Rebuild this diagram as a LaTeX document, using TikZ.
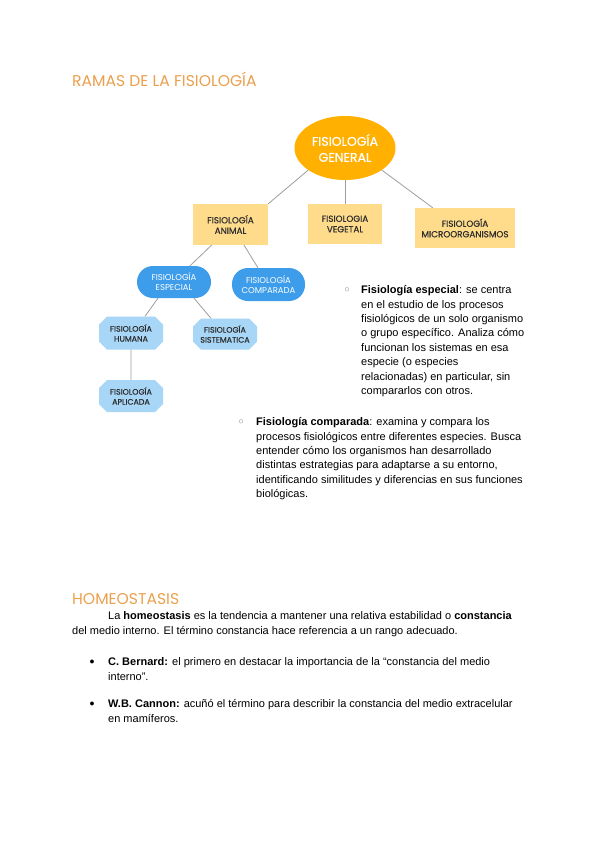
\documentclass[tikz,border=0pt]{standalone}
\usepackage{fontspec}
\setmainfont{Liberation Sans}
\newfontfamily\headfont{Poppins}
\newfontfamily\boxfont{Poppins}[FakeBold=0.6]
\usetikzlibrary{shapes.geometric,shapes.misc}
\definecolor{headorange}{HTML}{EBA04E}
\definecolor{genorange}{HTML}{FFB000}
\definecolor{boxyellow}{HTML}{FFDB8C}
\definecolor{pillblue}{HTML}{3D9DEB}
\definecolor{paleblue}{HTML}{A7D6F7}
\definecolor{linegray}{HTML}{9E9E9E}
\definecolor{boxtext}{HTML}{2E2E2E}
\begin{document}
\begin{tikzpicture}[x=1pt, y=-1pt,
    heading/.style={anchor=base west, inner sep=0pt, text=headorange, font=\headfont\fontsize{15.6}{18}\selectfont},
    body/.style={anchor=north west, inner sep=0pt, align=left, font=\fontsize{11}{14.4}\selectfont},
    bulletmark/.style={inner sep=0pt, font=\fontsize{9}{10}\selectfont},
    general/.style={ellipse, fill=genorange, minimum width=101pt, minimum height=64pt, inner sep=0pt, align=center, text=white, font=\boxfont\fontsize{12.5}{16}\selectfont},
    branch/.style={rectangle, fill=boxyellow, minimum height=40pt, inner sep=0pt, align=center, text=boxtext, font=\boxfont\fontsize{8.8}{10.5}\selectfont},
    pill/.style={rectangle, rounded corners=16pt, fill=pillblue, minimum width=74pt, minimum height=32pt, inner sep=0pt, align=center, text=white, font=\headfont\fontsize{8.5}{10}\selectfont},
    leaf/.style={chamfered rectangle, chamfered rectangle xsep=5pt, chamfered rectangle ysep=3pt, fill=paleblue, minimum width=64pt, minimum height=32pt, inner sep=0pt, align=center, text=boxtext, font=\boxfont\fontsize{7.9}{10}\selectfont},
    link/.style={draw=linegray, line width=0.8pt}]
    \path[fill=white] (0,0) rectangle (600,848);

    \node[heading] (ramas) at (72,87) {RAMAS DE LA FISIOLOGÍA};

    \node[general] (gen) at (345,148) {FISIOLOGÍA\\GENERAL};
    \node[branch, minimum width=75pt, minimum height=41pt] (animal) at (230.5,224.5) {FISIOLOGÍA\\ANIMAL};
    \node[branch, minimum width=74pt] (veg) at (345,224) {FISIOLOGIA\\VEGETAL};
    \node[branch, minimum width=100pt] (micro) at (465,228) {FISIOLOGÍA\\MICROORGANISMOS};
    \node[pill] (especial) at (174,282) {FISIOLOGÍA\\ESPECIAL};
    \node[pill, minimum width=73pt, minimum height=33pt] (comparada) at (268.5,284.5) {FISIOLOGÍA\\COMPARADA};
    \node[leaf, minimum height=33pt] (humana) at (131,333) {FISIOLOGÍA\\HUMANA};
    \node[leaf, minimum height=31pt] (sistematica) at (225,334) {FISIOLOGÍA\\SISTEMATICA};
    \node[leaf] (aplicada) at (131,396) {FISIOLOGÍA\\APLICADA};

    \draw[link] (gen.211) -- (animal.north east);
    \draw[link] (gen.south) -- (veg.north);
    \draw[link] (gen.329) -- ([xshift=18pt]micro.north west);
    \draw[link] ([xshift=-19pt]animal.south) -- ([xshift=16pt]especial.north);
    \draw[link] ([xshift=13.5pt]animal.south) -- ([xshift=-10.5pt]comparada.north);
    \draw[link] ([xshift=-16pt]especial.south) -- ([xshift=14pt]humana.north);
    \draw[link] ([xshift=20pt]especial.south) -- ([xshift=-14pt]sistematica.north);
    \draw[link] (humana) -- (aplicada);

    \node[bulletmark, text=gray] (mark1) at (347,290) {○};
    \node[body] (especialtxt) at (361,285.5) {\textbf{Fisiología especial}: se centra\\
        en el estudio de los procesos\\
        fisiológicos de un solo organismo\\
        o grupo específico. Analiza cómo\\
        funcionan los sistemas en esa\\
        especie (o especies\\
        relacionadas) en particular, sin\\
        compararlos con otros.};
    \node[bulletmark, text=gray] (mark2) at (241,422) {○};
    \node[body] (comparadatxt) at (256,417.5) {\textbf{Fisiología comparada}: examina y compara los\\
        procesos fisiológicos entre diferentes especies. Busca\\
        entender cómo los organismos han desarrollado\\
        distintas estrategias para adaptarse a su entorno,\\
        identificando similitudes y diferencias en sus funciones\\
        biológicas.};

    \node[heading] (homeo) at (72,604) {HOMEOSTASIS};
    \node[body] (homeotxt) at (72,611.5) {\hspace*{36pt}La \textbf{homeostasis} es la tendencia a mantener una relativa estabilidad o \textbf{constancia}\\
        del medio interno. El término constancia hace referencia a un rango adecuado.};
    \node[bulletmark] (mark3) at (92,662) {●};
    \node[body] (bernard) at (108,657.5) {\textbf{C. Bernard:} el primero en destacar la importancia de la “constancia del medio\\
        interno”.};
    \node[bulletmark] (mark4) at (92,704) {●};
    \node[body] (cannon) at (108,699.5) {\textbf{W.B. Cannon:} acuñó el término para describir la constancia del medio extracelular\\
        en mamíferos.};
\end{tikzpicture}
\end{document}
